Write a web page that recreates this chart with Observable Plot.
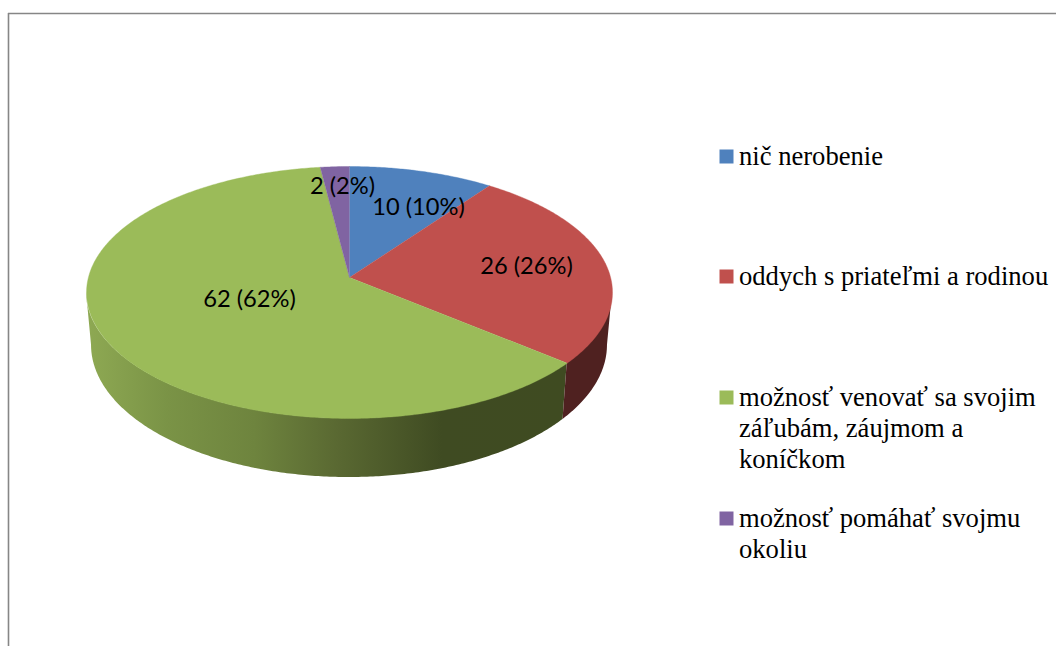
<!DOCTYPE html>
<html>
<head>
<meta charset="utf-8">
<style>
  html, body { margin: 0; padding: 0; background: #fff; }
  svg { display: block; }
</style>
<script src="https://cdn.jsdelivr.net/npm/d3@7"></script>
<script src="https://cdn.jsdelivr.net/npm/@observablehq/plot@0.6"></script>
</head>
<body>
<script>
// Data
const categories = ["nič nerobenie", "oddych s priateľmi a rodinou", "možnosť venovať sa svojim záľubám, záujmom a koníčkom", "možnosť pomáhať svojmu okoliu"];
const values = [10, 26, 62, 2];
const colors = ["#4f81bd", "#c0504d", "#9bbb59", "#8064a2"];
const legendLines = [
  ["nič nerobenie"],
  ["oddych s priateľmi a rodinou"],
  ["možnosť venovať sa svojim", "záľubám, záujmom a", "koníčkom"],
  ["možnosť pomáhať svojmu", "okoliu"]
];

// Layout (pixel-valued domain, so scales map 1:1 onto the picture)
const W = 1056, H = 646;
const cx = 349, cy = 277;         // where the slices meet
const a = 261.1, b = 124.2, k = 0.119;   // perspective disc
const wallScaleX = 258 / 263, wallScaleY = 1.05, wallY = 329;
const labelPos = [[418, 207], [526, 266], [249, 299], [342, 186]];
const legendY = [156, 276, 397, 518];
const legendBaselines = [[163.5], [284], [405, 436, 467], [526, 557]];
const wallStops = [[0, "#8ea953"], [0.17, "#7a9346"], [0.35, "#6e843e"], [0.52, "#5a6932"], [0.74, "#3f4b22"], [1, "#3f4b21"]];
const redWall = "#4f2120";

const total = d3.sum(values);
const edges = Array.from(d3.cumsum(values), v => v / total * 2 * Math.PI);
const starts = [0, ...edges.slice(0, -1)];

function topPoint(t) {
  const u = Math.sin(t), v = Math.cos(t), w = 1 + k * v;
  return {x: cx + a * u / w, y: cy - b * v / w};
}
function bottomPoint(t) {
  const u = Math.sin(t), v = Math.cos(t), w = 1 + k * v;
  return {x: cx + wallScaleX * a * u / w, y: wallY - wallScaleY * b * v / w};
}
function sweep(t0, t1) {
  const n = Math.max(2, Math.ceil(Math.abs(t1 - t0) / 0.01));
  return d3.range(n + 1).map(i => t0 + (t1 - t0) * i / n);
}
const wedge = (t0, t1) => [{x: cx, y: cy}, ...sweep(t0, t1).map(topPoint)];
const wall = (t0, t1) => sweep(t0, t1).map(t => {
  const p = topPoint(t), q = bottomPoint(t);
  return {x1: p.x, y1: p.y, x2: q.x, y2: q.y};
});

const extreme = Math.acos(-k);  // angle of the disc's widest point
const gradient = () => {
  const svg = d3.create("svg:defs");
  const g = svg.append("linearGradient").attr("id", "greenWall").attr("x1", 0).attr("x2", 1).attr("y1", 0).attr("y2", 0);
  wallStops.forEach(([o, c]) => g.append("stop").attr("offset", o).attr("stop-color", c));
  return svg.node();
};

const legendText = legendLines.flatMap((lines, i) => lines.map((text, j) => ({text, y: legendBaselines[i][j]})));
const swatches = categories.map((name, i) => ({name, color: colors[i], y: legendY[i]}));
const labels = values.map((v, i) => ({text: `${v} (${Math.round(v / total * 100)}%)`, x: labelPos[i][0], y: labelPos[i][1]}));

const chart = Plot.plot({
  width: W,
  height: H,
  margin: 0,
  style: {background: "#fff"},
  x: {domain: [0, W], range: [0, W], axis: null},
  y: {domain: [0, H], range: [0, H], axis: null},
  marks: [
    gradient,
    Plot.ruleY([13], {x1: 8, x2: W, stroke: "#868686", strokeWidth: 1.6}),
    Plot.ruleX([8], {y1: 13, y2: H, stroke: "#868686", strokeWidth: 1.6}),
    Plot.area(wall(starts[2], 2 * Math.PI - extreme), {x1: "x1", y1: "y1", x2: "x2", y2: "y2", fill: "url(#greenWall)"}),
    Plot.area(wall(extreme, starts[2]), {x1: "x1", y1: "y1", x2: "x2", y2: "y2", fill: redWall}),
    ...values.map((v, i) => Plot.line(wedge(starts[i], edges[i]), {x: "x", y: "y", fill: colors[i], stroke: colors[i], strokeWidth: 0.4})),
    Plot.text(labels, {x: "x", y: "y", text: "text", fontFamily: "Lato", fontSize: 23.7, fill: "#000"}),
    Plot.dot(swatches, {x: () => 726, y: "y", symbol: "square", r: 7.9, fill: (d) => d.color, stroke: "none"}),
    Plot.text(legendText, {x: () => 738.5, y: "y", text: "text", textAnchor: "start", lineAnchor: "bottom", dy: 0.5, fontFamily: "Liberation Serif", fontSize: 26.6, fill: "#000"})
  ]
});
document.body.appendChild(chart);
</script>
</body>
</html>
